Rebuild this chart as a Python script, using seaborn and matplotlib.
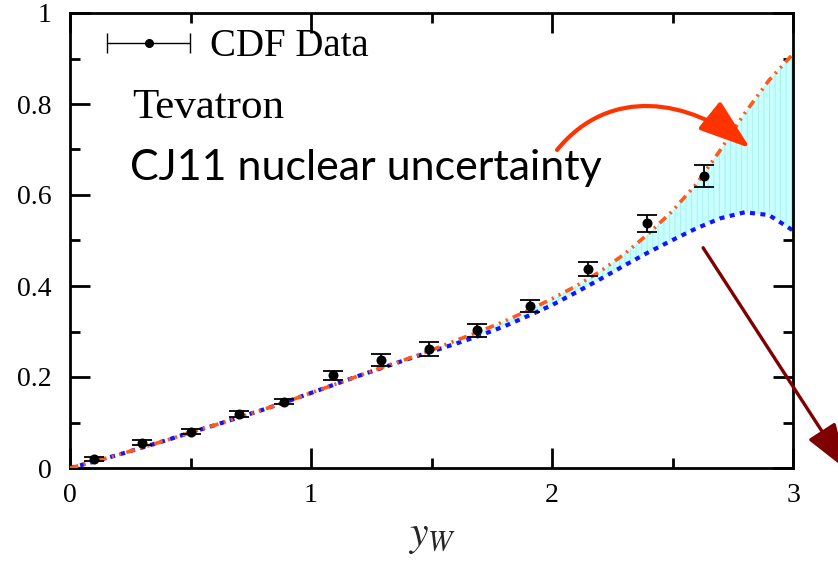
import numpy as np
import pandas as pd
import matplotlib
matplotlib.use("Agg")
import matplotlib.pyplot as plt
import seaborn as sns
from matplotlib.container import ErrorbarContainer
from matplotlib.legend_handler import HandlerErrorbar
from matplotlib.patches import FancyArrowPatch
from matplotlib.path import Path
from matplotlib.ticker import MultipleLocator, FixedLocator, FixedFormatter

# ---------------- data ----------------
y_grid = [0.0, 0.1, 0.2, 0.3, 0.4, 0.5, 0.6, 0.7, 0.8, 0.9, 1.0,
          1.1, 1.2, 1.3, 1.4, 1.5, 1.6, 1.7, 1.8, 1.9, 2.0,
          2.1, 2.2, 2.3, 2.4, 2.5, 2.6, 2.7, 2.8, 2.9, 3.0]
cj11_upper = [0.000, 0.014, 0.029, 0.045, 0.061, 0.078, 0.094, 0.111, 0.128, 0.146, 0.165,
              0.184, 0.203, 0.222, 0.240, 0.259, 0.280, 0.300, 0.322, 0.346, 0.372,
              0.400, 0.432, 0.470, 0.515, 0.565, 0.625, 0.700, 0.780, 0.852, 0.910]
cj11_lower = [0.000, 0.014, 0.029, 0.045, 0.061, 0.078, 0.094, 0.111, 0.128, 0.146, 0.165,
              0.184, 0.203, 0.221, 0.239, 0.256, 0.273, 0.291, 0.311, 0.334, 0.358,
              0.386, 0.415, 0.445, 0.474, 0.501, 0.527, 0.549, 0.562, 0.556, 0.522]

cdf_y = [0.10, 0.30, 0.50, 0.70, 0.89, 1.09, 1.29, 1.49, 1.69, 1.91, 2.15, 2.395, 2.63]
cdf_asym = [0.020, 0.056, 0.080, 0.118, 0.146, 0.204, 0.237, 0.261, 0.303, 0.356, 0.437, 0.538, 0.642]
cdf_err = [0.004, 0.005, 0.006, 0.007, 0.006, 0.0095, 0.013, 0.015, 0.014, 0.014, 0.015, 0.019, 0.025]

x_ticks = [0, 1, 2, 3]
x_tick_labels = ["0", "1", "2", "3"]
y_ticks = [0.0, 0.2, 0.4, 0.6, 0.8, 1.0]
y_tick_labels = ["0", "0.2", "0.4", "0.6", "0.8", "1"]

legend_label = "CDF Data"
title_text = "Tevatron"
note_text = "CJ11 nuclear uncertainty"
x_label = r"$y_W$"

curves = pd.DataFrame({"y": y_grid, "upper": cj11_upper, "lower": cj11_lower})
points = pd.DataFrame({"y": cdf_y, "A": cdf_asym, "err": cdf_err})

# ---------------- style ----------------
sns.set_theme(style="ticks")
plt.rcParams["font.family"] = ["Liberation Serif", "DejaVu Serif"]
plt.rcParams["mathtext.fontset"] = "stix"
plt.rcParams["axes.edgecolor"] = "black"
plt.rcParams["xtick.color"] = "black"
plt.rcParams["ytick.color"] = "black"
plt.rcParams["text.color"] = "black"
plt.rcParams["hatch.linewidth"] = 0.6

fig = plt.figure(figsize=(8.38, 5.69), dpi=100)
ax = fig.add_axes([70 / 838, 101 / 569, 723 / 838, 455 / 569])

# uncertainty band
ax.fill_between(curves["y"], curves["lower"], curves["upper"],
                facecolor="#c8ffff", edgecolor="#a6eeee", hatch="|||",
                linewidth=0, zorder=1)

# curves
sns.lineplot(data=curves, x="y", y="lower", ax=ax, color="#1414ff",
             linewidth=3.0, linestyle=(0, (1.2, 1.3)), zorder=2)
sns.lineplot(data=curves, x="y", y="upper", ax=ax, color="#ff5a1a",
             linewidth=2.6, linestyle=(0, (2.4, 1.5, 0.6, 1.5, 0.6, 1.5)), zorder=3)

# data points
ax.errorbar(points["y"], points["A"], yerr=points["err"], fmt="none",
            ecolor="black", elinewidth=1.3, capsize=7, capthick=1.3, zorder=4)
sns.scatterplot(data=points, x="y", y="A", ax=ax, color="black", s=52,
                edgecolor="black", linewidth=0, zorder=5)

# legend proxy (horizontal error bar symbol)
proxy = ax.errorbar([np.nan], [np.nan], xerr=[0.1], fmt="o", color="black",
                    ms=5.5, elinewidth=1.0, capsize=7, capthick=1.0,
                    label=legend_label)
leg = ax.legend(handles=[proxy], labels=[legend_label], loc="center left",
                bbox_to_anchor=((107 - 70) / 723, (468 - 47) / 455),
                frameon=False, fontsize=28, handlelength=2.15,
                handletextpad=0.5, borderpad=0, borderaxespad=0,
                handler_map={ErrorbarContainer: HandlerErrorbar(xerr_size=1.07)})

# texts
ax.text(0.26, 0.769, title_text, fontsize=31, ha="left", va="baseline",
        family=["Liberation Serif"])
ax.text(0.249, 0.633, note_text, fontsize=31, ha="left", va="baseline",
        family=["Lato", "DejaVu Sans"])

# arrows
pts = [(2.021, 0.699), (2.241, 0.842), (2.573, 0.809), (2.822, 0.703)]
curve_path = Path(pts, [Path.MOVETO, Path.CURVE4, Path.CURVE4, Path.CURVE4])
arr1 = FancyArrowPatch(path=curve_path, transform=ax.transData,
                       arrowstyle="-|>,head_length=1.6,head_width=0.55",
                       mutation_scale=20, color="#ff3300", linewidth=3,
                       zorder=6)
ax.add_patch(arr1)
ax.annotate("", xy=(3.225, -0.005), xytext=(2.627, 0.484),
            xycoords="data", textcoords="data", annotation_clip=False,
            arrowprops=dict(arrowstyle="-|>,head_length=1.45,head_width=0.5",
                            mutation_scale=20, color="#7f0000", lw=2.4,
                            shrinkA=0, shrinkB=0), zorder=6)

# axes
ax.set_xlim(0, 3)
ax.set_ylim(0, 1)
ax.xaxis.set_major_locator(FixedLocator(x_ticks))
ax.xaxis.set_major_formatter(FixedFormatter(x_tick_labels))
ax.yaxis.set_major_locator(FixedLocator(y_ticks))
ax.yaxis.set_major_formatter(FixedFormatter(y_tick_labels))
ax.xaxis.set_minor_locator(MultipleLocator(0.5))
ax.yaxis.set_minor_locator(MultipleLocator(0.1))
ax.tick_params(which="both", direction="in", top=True, right=True, width=2)
ax.tick_params(which="major", length=14.5, labelsize=20, pad=13)
ax.tick_params(axis="x", which="major", pad=11)
ax.tick_params(which="minor", length=7.5)
for s in ax.spines.values():
    s.set_linewidth(2)
    s.set_color("black")
ax.set_xlabel(x_label, fontsize=30, labelpad=7)
ax.set_ylabel("")

fig.savefig("out.png", dpi=100)
